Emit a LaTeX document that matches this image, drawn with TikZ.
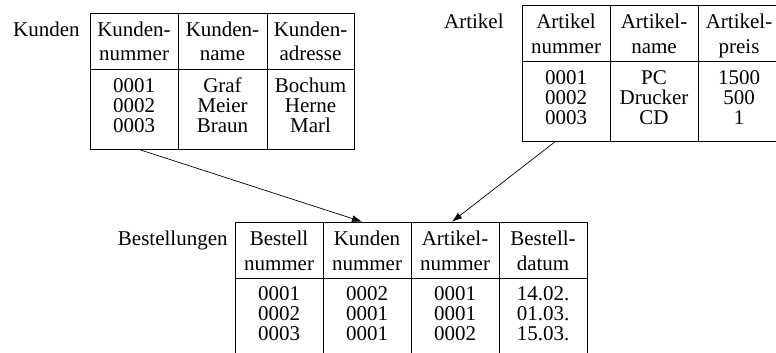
\documentclass[tikz,border=0pt]{standalone}
\usepackage{fontspec}
\setmainfont{Liberation Serif}
\usetikzlibrary{arrows.meta}
\begin{document}
\begin{tikzpicture}[x=1pt,y=-1pt,line width=0.8pt,
  txt/.style={font=\fontsize{21}{24}\selectfont,inner sep=0pt,anchor=base},
  lbl/.style={font=\fontsize{21}{24}\selectfont,inner sep=0pt,anchor=base east},
  tabframe/.style={draw,line width=0.8pt,inner sep=0pt,anchor=north west},
  rel/.style={-{Latex[length=10pt,width=7pt]},line width=0.7pt}]
\useasboundingbox (0,0) rectangle (776,353);
\clip (0,0) rectangle (776,353);

% ---------- Kunden ----------
\node[tabframe,minimum width=264pt,minimum height=136pt] (kunden) at (90,13) {};
\draw (90,69) -- (354,69);
\draw (178,13) -- (178,149) (267,13) -- (267,149);
\node[lbl] (lk) at (80,37) {Kunden};
\foreach \cx/\ha/\hb/\da/\db/\dc [count=\i] in
  {134/Kunden-/nummer/0001/0002/0003,
   222.5/Kunden-/name/Graf/Meier/Braun,
   310.5/Kunden-/adresse/Bochum/Herne/Marl}{
  \node[txt] (kh\i a) at (\cx,37) {\ha};
  \node[txt] (kh\i b) at (\cx,61) {\hb};
  \node[txt] (kd\i a) at (\cx,92.5) {\da};
  \node[txt] (kd\i b) at (\cx,112.5) {\db};
  \node[txt] (kd\i c) at (\cx,132.5) {\dc};
}

% ---------- Artikel ----------
\node[tabframe,minimum width=258pt,minimum height=136pt] (artikel) at (522,5) {};
\draw (522,61) -- (780,61);
\draw (610,5) -- (610,141) (698,5) -- (698,141);
\node[lbl] (la) at (504,29) {Artikel};
\foreach \cx/\ha/\hb/\da/\db/\dc [count=\i] in
  {566/Artikel/nummer/0001/0002/0003,
   654/Artikel-/name/PC/Drucker/CD,
   739/Artikel-/preis/1500/500/1}{
  \node[txt] (ah\i a) at (\cx,29) {\ha};
  \node[txt] (ah\i b) at (\cx,53) {\hb};
  \node[txt] (ad\i a) at (\cx,84.5) {\da};
  \node[txt] (ad\i b) at (\cx,104.5) {\db};
  \node[txt] (ad\i c) at (\cx,124.5) {\dc};
}

% ---------- Bestellungen ----------
\node[tabframe,minimum width=352pt,minimum height=136pt] (best) at (235,221.7) {};
\draw (235,278) -- (587,278);
\draw (323,221.7) -- (323,358) (411,221.7) -- (411,358) (499,221.7) -- (499,358);
\node[lbl] (lb) at (228,245.7) {Bestellungen};
\foreach \cx/\ha/\hb/\da/\db/\dc [count=\i] in
  {279/Bestell/nummer/0001/0002/0003,
   367/Kunden/nummer/0002/0001/0001,
   455/Artikel-/nummer/0001/0001/0002,
   543/Bestell-/datum/14.02./01.03./15.03.}{
  \node[txt] (bh\i a) at (\cx,245.7) {\ha};
  \node[txt] (bh\i b) at (\cx,270) {\hb};
  \node[txt] (bd\i a) at (\cx,300.7) {\da};
  \node[txt] (bd\i b) at (\cx,320.7) {\db};
  \node[txt] (bd\i c) at (\cx,340.7) {\dc};
}

% ---------- relations ----------
\coordinate (kfrom) at (kunden.south west -| 140,0);
\coordinate (afrom) at (artikel.south west -| 555,0);
\coordinate (bk) at (best.north west -| 362,0);
\coordinate (ba) at (best.north west -| 452,0);
\draw[rel] (kfrom) -- (bk);
\draw[rel] (afrom) -- (ba);
\end{tikzpicture}
\end{document}
